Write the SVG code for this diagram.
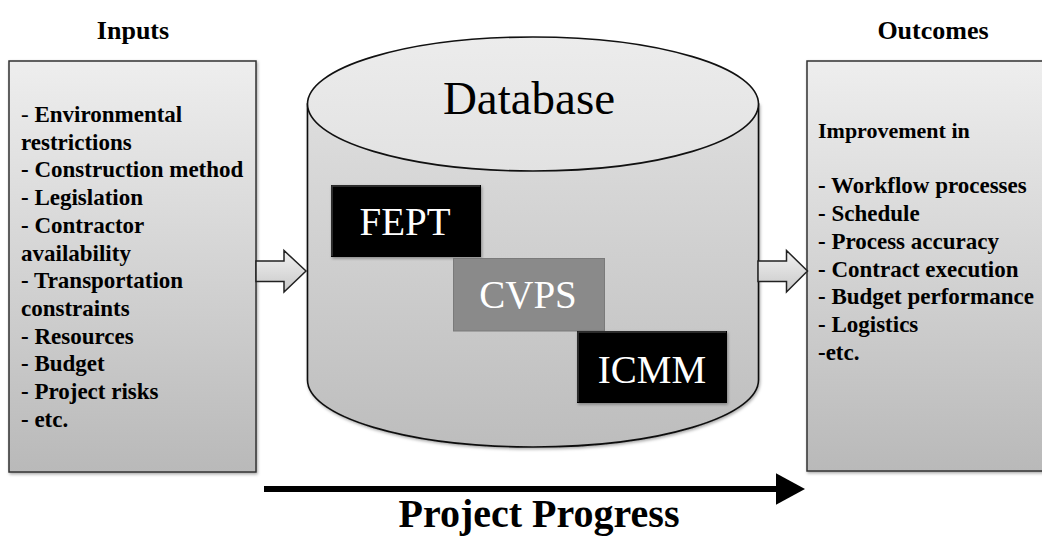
<svg xmlns="http://www.w3.org/2000/svg" width="1042" height="537" viewBox="0 0 1042 537">
<defs>
  <linearGradient id="boxGrad" x1="0" y1="0" x2="0" y2="1">
    <stop offset="0" stop-color="#eeeeee"/>
    <stop offset="1" stop-color="#b9b9b9"/>
  </linearGradient>
  <linearGradient id="cylGrad" x1="0" y1="0" x2="0" y2="1">
    <stop offset="0" stop-color="#dedede"/>
    <stop offset="1" stop-color="#bdbdbd"/>
  </linearGradient>
  <linearGradient id="topGrad" x1="0" y1="0" x2="0" y2="1">
    <stop offset="0" stop-color="#ececec"/>
    <stop offset="1" stop-color="#e2e2e2"/>
  </linearGradient>
  <linearGradient id="arrGrad" x1="0" y1="0" x2="0" y2="1">
    <stop offset="0" stop-color="#f2f2f2"/>
    <stop offset="1" stop-color="#c8c8c8"/>
  </linearGradient>
  <filter id="shadow" x="-5%" y="-5%" width="110%" height="110%">
    <feDropShadow dx="1" dy="1.5" stdDeviation="1.5" flood-color="#000" flood-opacity="0.35"/>
  </filter>
  <marker id="bigHead" markerWidth="5" markerHeight="5.4" refX="0" refY="2.7" orient="auto" markerUnits="strokeWidth">
    <path d="M0,0 L5,2.7 L0,5.4 Z" fill="#000"/>
  </marker>
  <style>
    .serif { font-family: "Liberation Serif", "Times New Roman", serif; }
    .hdr { font-family: "Liberation Serif", "Times New Roman", serif; font-weight: bold; font-size: 26px; fill: #000; text-anchor: middle; }
    .list { font-family: "Liberation Serif", "Times New Roman", serif; font-weight: bold; font-size: 23px; fill: #000; }
    .panel { fill: url(#boxGrad); stroke: #333; stroke-width: 1.5; filter: url(#shadow); }
    .blk { font-family: "Liberation Serif", "Times New Roman", serif; font-size: 39px; fill: #fff; text-anchor: middle; }
    .barrow { fill: url(#arrGrad); stroke: #222; stroke-width: 1.5; stroke-linejoin: miter; }
  </style>
</defs>
<rect width="1042" height="537" fill="#fff"/>

<text class="hdr" x="133" y="39">Inputs</text>
<text class="hdr" x="933" y="39">Outcomes</text>

<g id="inputs">
  <rect class="panel" x="9" y="61" width="247" height="411"/>
  <text class="list" x="21">
    <tspan x="21" y="122"><tspan font-weight="normal">-</tspan> Environmental</tspan>
    <tspan x="21" y="149.7">restrictions</tspan>
    <tspan x="21" y="177.4">- Construction method</tspan>
    <tspan x="21" y="205.1">- Legislation</tspan>
    <tspan x="21" y="232.8">- Contractor</tspan>
    <tspan x="21" y="260.5">availability</tspan>
    <tspan x="21" y="288.2">- Transportation</tspan>
    <tspan x="21" y="315.9">constraints</tspan>
    <tspan x="21" y="343.6">- Resources</tspan>
    <tspan x="21" y="371.3">- Budget</tspan>
    <tspan x="21" y="399">- Project risks</tspan>
    <tspan x="21" y="426.7">- etc.</tspan>
  </text>
</g>

<g id="outcomes">
  <rect class="panel" x="807" y="61" width="240" height="410"/>
  <text class="list" x="818">
    <tspan x="818" y="138" font-size="22">Improvement in</tspan>
    <tspan x="818" y="193.4">- Workflow processes</tspan>
    <tspan x="818" y="221.1">- Schedule</tspan>
    <tspan x="818" y="248.8">- Process accuracy</tspan>
    <tspan x="818" y="276.5">- Contract execution</tspan>
    <tspan x="818" y="304.2">- Budget performance</tspan>
    <tspan x="818" y="331.9">- Logistics</tspan>
    <tspan x="818" y="359.6">-etc.</tspan>
  </text>
</g>

<g id="database">
  <path d="M307.5,104 L307.5,380 A225.5,67 0 0 0 758.5,380 L758.5,104 Z" fill="url(#cylGrad)" stroke="#111" stroke-width="1.6" filter="url(#shadow)"/>
  <ellipse cx="533" cy="104" rx="225.5" ry="67" fill="url(#topGrad)" stroke="#111" stroke-width="1.6"/>
  <text class="serif" x="529" y="114" font-size="47" text-anchor="middle" fill="#000">Database</text>
</g>

<g id="fept">
  <rect x="331" y="185" width="150" height="72" fill="#000" filter="url(#shadow)"/>
  <path d="M332,256 L332,186 L480,186" fill="none" stroke="#3a3a3a" stroke-width="1.5"/>
  <text class="blk" x="405" y="235">FEPT</text>
</g>

<g id="cvps">
  <rect x="453.5" y="258.5" width="151" height="72.5" fill="#8a8a8a" stroke="#7a7a7a" stroke-width="1"/>
  <text class="blk" x="528" y="308">CVPS</text>
</g>

<g id="icmm">
  <rect x="577" y="331" width="150" height="72" fill="#000" filter="url(#shadow)"/>
  <path d="M578,402 L578,332 L726,332" fill="none" stroke="#3a3a3a" stroke-width="1.5"/>
  <text class="blk" x="652" y="382.5">ICMM</text>
</g>

<g id="connectors">
  <path class="barrow" d="M256,261 L284,261 L284,250.5 L306,271 L284,292 L284,281.5 L256,281.5 Z"/>
  <path class="barrow" d="M758,261 L786.5,261 L786.5,250.5 L807.5,271 L786.5,292 L786.5,281.5 L758,281.5 Z"/>
  <line x1="264" y1="489" x2="776" y2="489" stroke="#000" stroke-width="5.8" marker-end="url(#bigHead)"/>
</g>

<text class="serif" x="539" y="527" font-weight="bold" font-size="40" text-anchor="middle" fill="#000">Project Progress</text>
</svg>
